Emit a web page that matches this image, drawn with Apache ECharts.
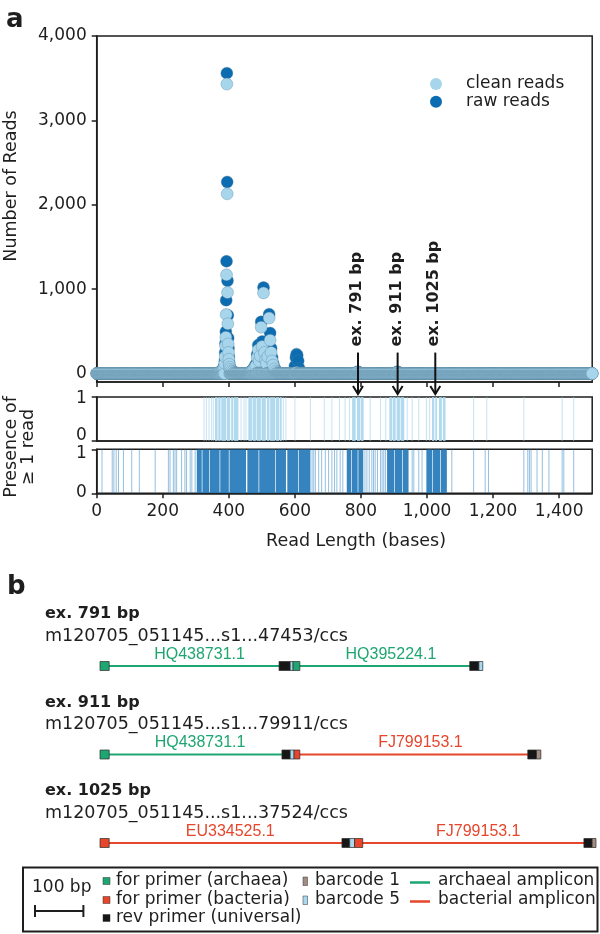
<!DOCTYPE html>
<html><head><meta charset="utf-8">
<script src="https://cdn.jsdelivr.net/npm/echarts@6/dist/echarts.min.js"></script>
<style>html,body{margin:0;padding:0;background:#fff}#c{width:600px;height:934px}</style>
</head><body><div id="c"></div>
<script>
// ================= DATA =================
const xTicks = [0, 200, 400, 600, 800, 1000, 1200, 1400];
const yTicks = [0, 1000, 2000, 3000, 4000];
const stripTicks = [0, 1];
const maxReadLength = 1500;

// Non-zero read counts as [read length, number of reads]; every other length 0..1500 has 0 reads
const rawPeaks = [
  [368,10],[372,15],[376,25],[380,40],[383,60],[386,90],[388,150],[389,250],[390,360],[391,495],
  [392,870],[393,1330],[394,3560],[395,2270],[396,1100],[397,690],[398,420],[399,300],[400,200],
  [401,130],[402,90],[404,60],[407,40],[411,25],[416,15],[421,10],
  [462,10],[466,20],[470,35],[474,55],[478,80],[482,110],[486,230],[489,337],[492,180],[495,260],
  [498,613],[501,380],[505,1020],[508,300],[511,200],[514,150],[518,240],[522,704],[525,480],
  [528,300],[531,190],[534,120],[538,70],[542,40],[546,20],[550,10],
  [597,30],[600,90],[603,190],[605,230],[607,215],[610,150],[613,60],[616,20],
  [786,10],[789,18],[791,22],[794,12],[908,15],[911,22],[914,12]
];
const cleanPeaks = [
  [368,8],[372,12],[376,20],[380,30],[383,50],[386,80],[388,120],[389,200],[390,330],[391,430],
  [392,700],[393,1170],[394,3430],[395,2130],[396,960],[397,590],[398,350],[399,250],[400,170],
  [401,110],[402,75],[404,50],[407,30],[411,20],[416,12],[421,8],
  [462,8],[466,15],[470,25],[474,45],[478,65],[482,90],[486,190],[489,278],[492,150],[495,210],
  [498,550],[501,320],[505,956],[508,250],[511,160],[514,120],[518,200],[522,657],[525,396],
  [528,250],[531,150],[534,100],[538,55],[542,30],[546,15],[550,8],
  [603,10],[606,12],[789,12],[791,15],[911,15]
];

// Presence of >= 1 read: runs [from, to] of read lengths and isolated read lengths
const cleanPresenceRuns = [[358,366],[368,375],[377,392],[394,404],[407,413],[415,429],
  [459,470],[472,482],[484,497],[499,512],[515,523],[525,540],[542,552],[554,560],
  [773,784],[788,797],[799,808],[886,895],[897,905],[908,918],[920,931],[1015,1022],[1025,1030],[1036,1045],[1048,1056]];
const cleanPresenceSingles = [325,332,340,348,353,437,446,452,565,573,600,647,689,712,735,752,765,828,859,875,940,955,975,998,1008,1141,1181,1293,1409,1444];
const rawPresenceRuns = [[303,318],[320,340],[342,372],[374,400],[402,452],[456,490],[492,540],[542,573],
  [577,610],[612,647],[757,770],[772,790],[792,807],[879,900],[902,925],[927,944],[998,1015],[1017,1040],[1042,1060]];
const rawPresenceSingles = [16,47,52,59,66,81,106,129,177,217,222,232,237,242,257,267,272,283,288,298,
  652,657,662,672,681,692,702,712,720,727,737,745,812,818,825,833,838,843,850,859,864,869,874,
  955,960,975,985,1075,1141,1176,1186,1293,1305,1310,1315,1333,1349,1369,1409,1414,1444];

// Examples
const exampleLengths = [791, 911, 1025];
const exampleLabels = ['ex. 791 bp', 'ex. 911 bp', 'ex. 1025 bp'];

// Panel b
const readIds = ['m120705_051145...s1...47453/ccs', 'm120705_051145...s1...79911/ccs', 'm120705_051145...s1...37524/ccs'];
// [row, start bp, end bp, group: 0 archaeal / 1 bacterial]
const amplicons = [[0,0,399,0],[0,399,791,0],[1,0,401,0],[1,401,911,1],[2,0,526,1],[2,526,1025,1]];
const ampliconIds = ['HQ438731.1','HQ395224.1','HQ438731.1','FJ799153.1','EU334525.1','FJ799153.1'];
// [row, start bp, end bp, kind: 0 for primer archaea, 1 for primer bacteria, 2 rev primer, 3 barcode 1, 4 barcode 5]
const primerBoxes = [
  [0,0,19,0],[0,370,393,2],[0,393,399,4],[0,399,413,0],[0,764,783,2],[0,783,791,4],
  [1,0,19,0],[1,376,393,2],[1,393,401,4],[1,401,413,1],[1,884,902,2],[1,902,911,3],
  [2,0,19,1],[2,500,516,2],[2,516,526,4],[2,526,543,1],[2,1000,1017,2],[2,1017,1025,3]
];
const scaleBarBp = 100;

// ================= STYLE =================
const FONT = 'DejaVu Sans';
const INK = '#1e1e1e';
const CLEAN = '#a6d5ec';
const RAW = '#0c6cb2';
const EDGE = '#55809a';
const GREEN = '#1ea672';
const RED = '#e5462c';
const BOXCOL = [GREEN, RED, '#161616', '#a38d83', '#a9d9ef'];

function fullSeries(peaks) {
  const m = new Map(peaks.map(p => [p[0], p[1]]));
  const out = [];
  for (let L = 0; L <= maxReadLength; L++) out.push([L, m.has(L) ? m.get(L) : 0]);
  return out;
}
const fmt = v => Number(v).toLocaleString('en-US');

const chart = echarts.init(document.getElementById('c'), null, {renderer: 'canvas', width: 600, height: 934});

function presenceRender(color, op) {
  return function (params, api) {
    const a = api.coord([api.value(0), 1]);
    const b = api.coord([api.value(1), 0]);
    let x = a[0], w = b[0] - a[0];
    if (w < 1) { x = (a[0] + b[0]) / 2 - 0.5; w = 1; }
    return {type: 'rect', shape: {x: x, y: a[1], width: w, height: b[1] - a[1]}, style: {fill: color, opacity: op}};
  };
}
const runsData = r => r.map(d => [d[0], d[1]]);
const singlesData = s => s.map(L => [L, L]);

const axisLineStyle = {color: INK, width: 1.5};
function xAx(grid, labels, ticks) {
  return {gridIndex: grid, type: 'value', min: 0, max: maxReadLength,
    axisLine: {show: true, onZero: false, lineStyle: axisLineStyle},
    axisTick: {show: ticks, length: 5, customValues: xTicks, lineStyle: axisLineStyle},
    axisLabel: {show: labels, customValues: xTicks, formatter: fmt, fontSize: 17, color: INK, fontFamily: FONT, margin: 10},
    splitLine: {show: false}};
}
function yAx(grid, min, max, vals, labelFmt, rich) {
  return {gridIndex: grid, type: 'value', min: min, max: max,
    axisLine: {show: true, onZero: false, lineStyle: axisLineStyle},
    axisTick: {show: true, length: 5, customValues: vals, lineStyle: axisLineStyle},
    axisLabel: {customValues: vals, formatter: labelFmt, fontSize: 17, color: INK, fontFamily: FONT, margin: 10, rich: rich},
    splitLine: {show: false}};
}
const richLab = (topPad, botPad) => ({
  t: {fontSize: 17, color: INK, fontFamily: FONT, padding: [topPad, 0, 0, 0]},
  b: {fontSize: 17, color: INK, fontFamily: FONT, padding: [0, 0, botPad, 0]}
});
const stripFmt = v => (v === 1 ? '{t|1}' : '{b|0}');

const option = {
  animation: false,
  backgroundColor: '#fff',
  textStyle: {fontFamily: FONT},
  grid: [
    {left: 96.7, top: 36, width: 495.5, height: 346, show: true, borderColor: INK, borderWidth: 1.5, backgroundColor: 'transparent'},
    {left: 96.7, top: 397, width: 495.5, height: 44, show: true, borderColor: INK, borderWidth: 1.5, backgroundColor: 'transparent'},
    {left: 96.7, top: 449.3, width: 495.5, height: 44, show: true, borderColor: INK, borderWidth: 1.5, backgroundColor: 'transparent'},
    {left: 100, top: 666, width: 496, height: 177}
  ],
  xAxis: [
    xAx(0, false, true),
    xAx(1, false, false),
    xAx(2, true, true),
    {gridIndex: 3, type: 'value', min: 0, max: 1025, show: false}
  ],
  yAxis: [
    yAx(0, -100, 4000, yTicks, fmt),
    yAx(1, 0, 1, stripTicks, stripFmt, richLab(4, 10)),
    yAx(2, 0, 1, stripTicks, stripFmt, richLab(9, 1)),
    {gridIndex: 3, type: 'value', min: 0, max: 2, inverse: true, show: false}
  ],
  legend: {
    data: ['clean reads', 'raw reads'], orient: 'vertical', left: 430, top: 75.5, padding: 0,
    icon: 'circle', itemWidth: 12, itemHeight: 12, itemGap: 0.7, selectedMode: false,
    itemStyle: {borderWidth: 0},
    textStyle: {fontSize: 17, color: INK, fontFamily: FONT, lineHeight: 17, padding: [0, 0, 0, 19]}
  },
  series: [
    {type: 'scatter', name: 'raw reads', xAxisIndex: 0, yAxisIndex: 0, data: fullSeries(rawPeaks), symbolSize: 12,
      itemStyle: {color: RAW, borderColor: EDGE, borderWidth: 0.35, opacity: 1}, silent: true, z: 2},
    {type: 'scatter', name: 'clean reads', xAxisIndex: 0, yAxisIndex: 0, data: fullSeries(cleanPeaks), symbolSize: 12,
      itemStyle: {color: CLEAN, borderColor: EDGE, borderWidth: 0.35, opacity: 1}, silent: true, z: 3},
    {type: 'custom', xAxisIndex: 1, yAxisIndex: 1, data: runsData(cleanPresenceRuns), renderItem: presenceRender('#a4d4ec', 0.85), clip: true, silent: true},
    {type: 'custom', xAxisIndex: 1, yAxisIndex: 1, data: singlesData(cleanPresenceSingles), renderItem: presenceRender('#9fd1ea', 0.6), clip: true, silent: true},
    {type: 'custom', xAxisIndex: 2, yAxisIndex: 2, data: runsData(rawPresenceRuns), renderItem: presenceRender('#1f77b8', 0.9), clip: true, silent: true},
    {type: 'custom', xAxisIndex: 2, yAxisIndex: 2, data: singlesData(rawPresenceSingles), renderItem: presenceRender('#3a8bc6', 0.55), clip: true, silent: true},
    // panel b: amplicon lines + labels
    {type: 'custom', xAxisIndex: 3, yAxisIndex: 3, data: amplicons, encode: {x: [1, 2], y: 0}, silent: true, z: 2,
      renderItem: function (params, api) {
        const row = api.value(0), s = api.value(1), e = api.value(2), g = api.value(3);
        const p1 = api.coord([s, row]), p2 = api.coord([e, row]);
        const col = g === 0 ? GREEN : RED;
        return {type: 'group', children: [
          {type: 'line', shape: {x1: p1[0], y1: p1[1], x2: p2[0], y2: p2[1]}, style: {stroke: col, lineWidth: 2}},
          {type: 'text', x: (p1[0] + p2[0]) / 2 + 3, y: p1[1] - 11.5,
            style: {text: ampliconIds[params.dataIndex], fill: col, font: '16px "Liberation Sans"', align: 'center', verticalAlign: 'middle'}}
        ]};
      }},
    // panel b: primer / barcode boxes
    {type: 'custom', xAxisIndex: 3, yAxisIndex: 3, data: primerBoxes, encode: {x: [1, 2], y: 0}, silent: true, z: 3,
      renderItem: function (params, api) {
        const row = api.value(0), s = api.value(1), e = api.value(2), k = api.value(3);
        const p1 = api.coord([s, row]), p2 = api.coord([e, row]);
        return {type: 'rect', shape: {x: p1[0], y: p1[1] - 4.5, width: p2[0] - p1[0], height: 9},
          style: {fill: BOXCOL[k], stroke: '#2b2b2b', lineWidth: 0.7}};
      }},
    // panel b: row headers
    {type: 'custom', xAxisIndex: 3, yAxisIndex: 3, data: readIds.map((d, i) => [0, i]), encode: {x: 0, y: 1}, silent: true,
      renderItem: function (params, api) {
        const p = api.coord([0, api.value(1)]);
        return {type: 'group', children: [
          {type: 'text', x: 45, y: p[1] - 52, style: {text: exampleLabels[params.dataIndex], fill: INK, font: 'bold 16px "DejaVu Sans"', verticalAlign: 'middle'}},
          {type: 'text', x: 45, y: p[1] - 30, style: {text: readIds[params.dataIndex], fill: INK, font: '17.5px "DejaVu Sans"', verticalAlign: 'middle'}}
        ]};
      }}
  ]
};
chart.setOption(option);

// ===== annotations & legend of panel b, positioned through the chart's own scales =====
const g = [];
const txt = (x, y, text, font, extra) => ({type: 'text', x: x, y: y, silent: true,
  style: Object.assign({text: text, fill: INK, font: font, verticalAlign: 'middle'}, extra || {})});
g.push(txt(6, 20, 'a', 'bold 26px "DejaVu Sans"'));
g.push(txt(7, 587, 'b', 'bold 26px "DejaVu Sans"'));
g.push(Object.assign(txt(11, 186, 'Number of Reads', '17.5px "DejaVu Sans"', {align: 'center'}), {rotation: Math.PI / 2}));
g.push(Object.assign(txt(19.5, 447, 'Presence of\n≥ 1 read', '17.5px "DejaVu Sans"', {align: 'center', lineHeight: 17}), {rotation: Math.PI / 2}));
g.push(txt(356, 541, 'Read Length (bases)', '17.5px "DejaVu Sans"', {align: 'center'}));

exampleLengths.forEach((L, i) => {
  const p0 = chart.convertToPixel({gridIndex: 0}, [L, 0]);
  const top = chart.convertToPixel({gridIndex: 1}, [L, 1]);
  const x = p0[0], tip = top[1] - 3;
  g.push(Object.assign(txt(x - 1, p0[1] - 27, exampleLabels[i], 'bold 16px "DejaVu Sans"', {align: 'left'}), {rotation: Math.PI / 2, z: 10}));
  g.push({type: 'line', silent: true, z: 10, shape: {x1: x, y1: p0[1] - 21, x2: x, y2: tip}, style: {stroke: '#111', lineWidth: 2}});
  g.push({type: 'polyline', silent: true, z: 10, shape: {points: [[x - 5, tip - 8], [x, tip], [x + 5, tip - 8]]}, style: {stroke: '#111', lineWidth: 2, fill: null}});
});

// legend box of panel b
g.push({type: 'rect', silent: true, shape: {x: 23, y: 867.5, width: 574.5, height: 64}, style: {fill: 'none', stroke: INK, lineWidth: 2}});
const b0 = chart.convertToPixel({gridIndex: 3}, [0, 0])[0];
const b1 = chart.convertToPixel({gridIndex: 3}, [scaleBarBp, 0])[0];
const sbw = b1 - b0;
g.push(txt(32, 888, scaleBarBp + ' bp', '17px "DejaVu Sans"'));
g.push({type: 'line', silent: true, shape: {x1: 35, y1: 911, x2: 35 + sbw, y2: 911}, style: {stroke: INK, lineWidth: 2}});
g.push({type: 'line', silent: true, shape: {x1: 35, y1: 905, x2: 35, y2: 917}, style: {stroke: INK, lineWidth: 2}});
g.push({type: 'line', silent: true, shape: {x1: 35 + sbw, y1: 905, x2: 35 + sbw, y2: 917}, style: {stroke: INK, lineWidth: 2}});
const legRows = [881, 900, 918];
const col1 = ['for primer (archaea)', 'for primer (bacteria)', 'rev primer (universal)'];
[0, 1, 2].forEach((k, i) => {
  g.push({type: 'rect', silent: true, shape: {x: 103, y: legRows[i] - 3.5, width: 7, height: 7}, style: {fill: BOXCOL[k], stroke: '#333', lineWidth: 0.5}});
  g.push(txt(116, legRows[i], col1[i], '17px "DejaVu Sans"'));
});
const col2 = ['barcode 1', 'barcode 5'];
[3, 4].forEach((k, i) => {
  g.push({type: 'rect', silent: true, shape: {x: 303, y: legRows[i] - 4, width: 4.5, height: 8.5}, style: {fill: BOXCOL[k], stroke: '#333', lineWidth: 0.5}});
  g.push(txt(315, legRows[i], col2[i], '17px "DejaVu Sans"'));
});
const col3 = ['archaeal amplicon', 'bacterial amplicon'];
[GREEN, RED].forEach((c, i) => {
  g.push({type: 'line', silent: true, shape: {x1: 410, y1: legRows[i] + 1.5, x2: 430, y2: legRows[i] + 1.5}, style: {stroke: c, lineWidth: 2.5}});
  g.push(txt(438, legRows[i], col3[i], '17px "DejaVu Sans"'));
});
chart.setOption({graphic: g});
</script>
</body></html>
